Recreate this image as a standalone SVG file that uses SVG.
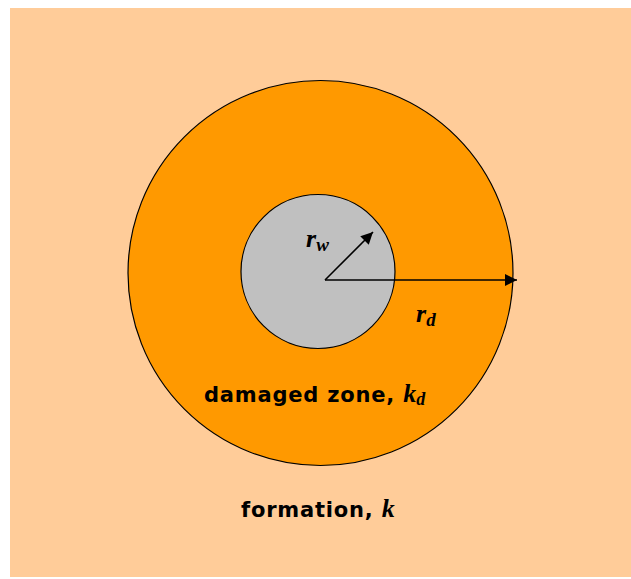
<svg xmlns="http://www.w3.org/2000/svg" width="631" height="579" viewBox="0 0 631 579">
<style>
.lbl{font-family:"DejaVu Sans",Verdana,sans-serif;font-weight:bold;font-size:21px;letter-spacing:0.8px;fill:#000}
.var{font-family:"Liberation Serif","Times New Roman",serif;font-style:italic;font-weight:bold;fill:#000;letter-spacing:0}
.ln{stroke:#000;stroke-width:1.6;fill:none}
</style>
<defs>
<marker id="ah2" viewBox="0 0 10 10" refX="10" refY="5" markerWidth="15" markerHeight="12" orient="auto" markerUnits="userSpaceOnUse">
<path d="M0,0 L10,5 L0,10 z" fill="#000"/>
</marker>
</defs>
<rect x="0" y="0" width="631" height="579" fill="#fff"/>
<g id="formation">
<rect x="10" y="8" width="621" height="569" fill="#FFCC99"/>
<text class="lbl" x="241" y="517">formation, <tspan class="var" font-size="26">k</tspan></text>
</g>
<g id="damaged-zone">
<circle cx="320.5" cy="273" r="192.5" fill="#FF9900" stroke="#000" stroke-width="1.2"/>
<text class="lbl" x="204" y="402">damaged zone, <tspan class="var" font-size="26">k<tspan font-size="18" dy="3">d</tspan></tspan></text>
</g>
<g id="wellbore">
<circle cx="318" cy="271.5" r="77" fill="#C0C0C0" stroke="#000" stroke-width="1.2"/>
</g>
<g id="connectors">
<line class="ln" x1="325" y1="280" x2="517" y2="280" marker-end="url(#ah2)"/>
<line class="ln" x1="325" y1="280" x2="373" y2="232" marker-end="url(#ah2)"/>
</g>
<g id="labels">
<text class="var" x="306" y="247" font-size="26">r<tspan font-size="19" dy="4">w</tspan></text>
<text class="var" x="416" y="322" font-size="26">r<tspan font-size="19" dy="4">d</tspan></text>
</g>
</svg>
